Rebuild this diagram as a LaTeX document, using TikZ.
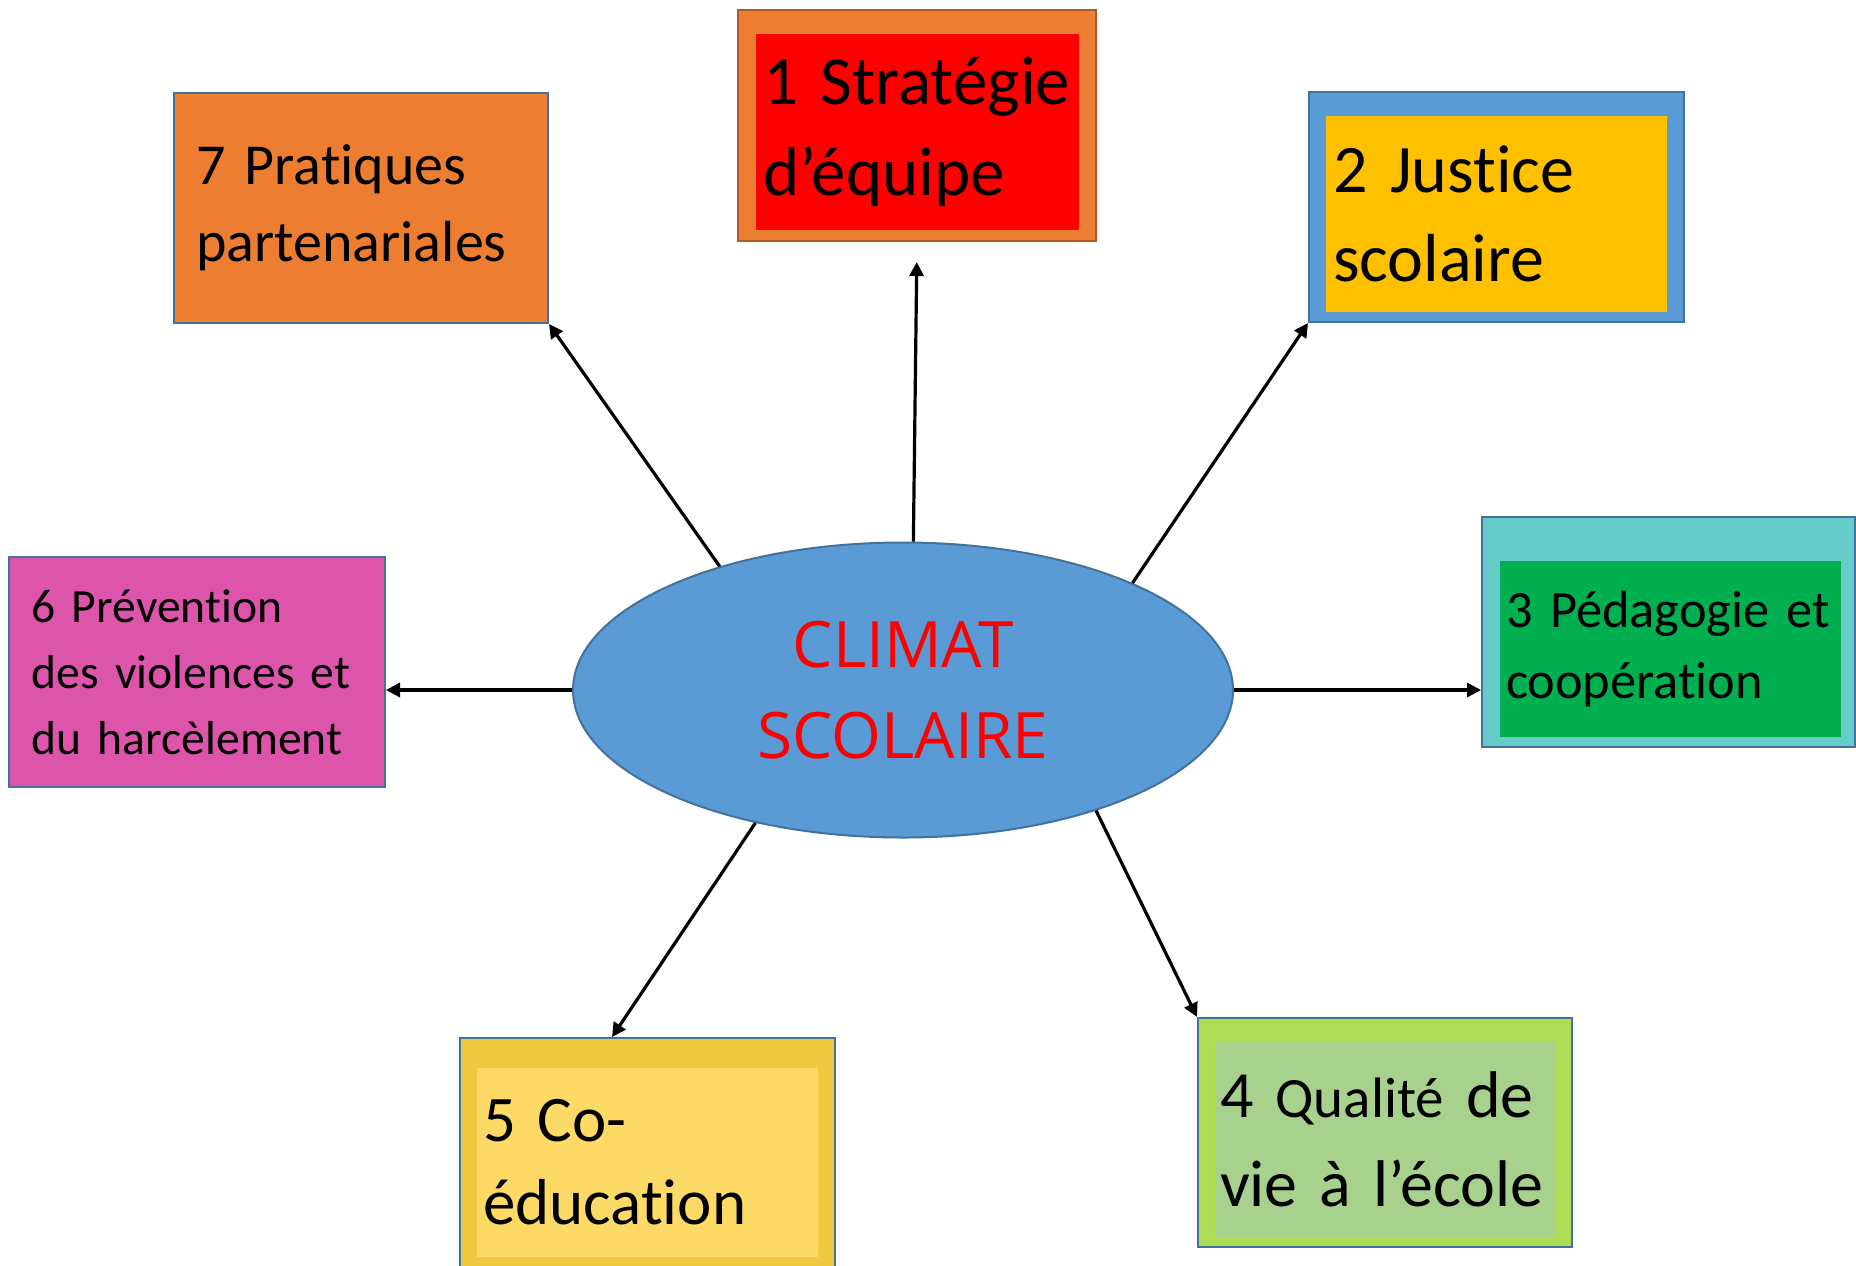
\documentclass[tikz,border=0pt]{standalone}
\usepackage{fontspec}
\setmainfont{Carlito}[Ligatures=NoCommon,WordSpace=0.85]
\newfontfamily\climfont{Open Sans}
\usetikzlibrary{arrows.meta,shapes.geometric}

\definecolor{rahmenblau}{HTML}{41719C}
\definecolor{orangeF}{HTML}{ED7D31}
\definecolor{orangeR}{HTML}{AE5A21}
\definecolor{blauF}{HTML}{5B9BD5}
\definecolor{goldF}{HTML}{FFC000}
\definecolor{tuerkisF}{HTML}{66CCCA}
\definecolor{gruenF}{HTML}{00B050}
\definecolor{hellgruenF}{HTML}{AEDD55}
\definecolor{salbeiF}{HTML}{A9D18E}
\definecolor{senfF}{HTML}{EEC940}
\definecolor{gelbF}{HTML}{FDD966}
\definecolor{pinkF}{HTML}{DD55AA}

\begin{document}
\begin{tikzpicture}[x=0.5pt,y=-0.5pt,
    rahmen/.style={draw=rahmenblau,line width=1pt,inner sep=0pt},
    innen/.style={inner xsep=3.5pt,inner ysep=0pt,align=left,anchor=center},
    pfeil/.style={line width=1.6pt,-{Triangle[length=7pt,width=7pt]}}]
    \useasboundingbox (0,0) rectangle (1856,1265);

    \node [ellipse,draw=rahmenblau,line width=1pt,fill=blauF,minimum width=330pt,minimum height=147.5pt,
      text=red,align=center,font=\climfont\fontsize{32}{45.5}\selectfont] (ClKern) at (903,690) {CLIMAT\\SCOLAIRE};

    \node [rahmen,draw=orangeR,fill=orangeF,minimum width=179pt,minimum height=115.5pt] (ClStr) at (917,125.5) {};
    \node [innen,fill=red,text width=154.5pt,minimum height=98pt,font=\fontsize{34.5}{45.5}\selectfont] (ClStrTxt) at (917.5,132) {1 Stratégie\\d’équipe};

    \node [rahmen,fill=blauF,minimum width=187.5pt,minimum height=115pt] (ClJus) at (1496.5,207) {};
    \node [innen,fill=goldF,text width=163.5pt,minimum height=98pt,font=\fontsize{34}{44.5}\selectfont] (ClJusTxt) at (1496.5,214) {2 Justice\\scolaire};

    \node [rahmen,fill=tuerkisF,minimum width=186.5pt,minimum height=115pt] (ClPed) at (1668.5,632) {};
    \node [innen,fill=gruenF,inner xsep=3pt,text width=164.5pt,minimum height=88pt,font=\fontsize{26.2}{35.5}\selectfont] (ClPedTxt) at (1670.5,649) {3 Pédagogie et\\coopération};

    \node [rahmen,fill=hellgruenF,minimum width=187pt,minimum height=114.5pt] (ClQua) at (1385,1132.5) {};
    \node [innen,fill=salbeiF,inner xsep=2.5pt,text width=165.5pt,minimum height=97.5pt,font=\fontsize{33}{44.5}\selectfont] (ClQuaTxt) at (1385.5,1139.5) {4 {\fontsize{28.5}{44.5}\selectfont Qualité} de\\vie à l’école};

    \node [rahmen,fill=senfF,minimum width=187.5pt,minimum height=115pt] (ClCoe) at (647.5,1153) {};
    \node [innen,fill=gelbF,inner xsep=3pt,text width=164.5pt,minimum height=94.5pt,font=\fontsize{32.5}{41.5}\selectfont] (ClCoeTxt) at (647.5,1162.5) {5 Co-\\éducation};

    \node [rahmen,fill=pinkF,innen,inner xsep=11.5pt,text width=165pt,minimum height=115pt,font=\fontsize{23.8}{33}\selectfont] (ClPre) at (197,672) {6 Prévention\\des violences et\\du harcèlement};

    \node [rahmen,fill=orangeF,innen,inner xsep=11pt,text width=165pt,minimum height=115pt,font=\fontsize{29}{38.5}\selectfont] (ClPra) at (361,208) {7 Pratiques\\partenariales};

    \draw [pfeil,shorten >=10pt] (ClKern.86) to (ClStr.south);
    \draw [pfeil] (ClKern.25) to (ClJus.south west);
    \draw [pfeil] (ClKern.east) to (ClKern.east -| ClPed.west);
    \draw [pfeil] (ClKern.-32) to (ClQua.north west);
    \draw [pfeil] (ClKern.222) to (ClCoe.107);
    \draw [pfeil] (ClKern.west) to (ClKern.west -| ClPre.east);
    \draw [pfeil] (ClKern.146) to (ClPra.south east);
  \end{tikzpicture}
\end{document}
